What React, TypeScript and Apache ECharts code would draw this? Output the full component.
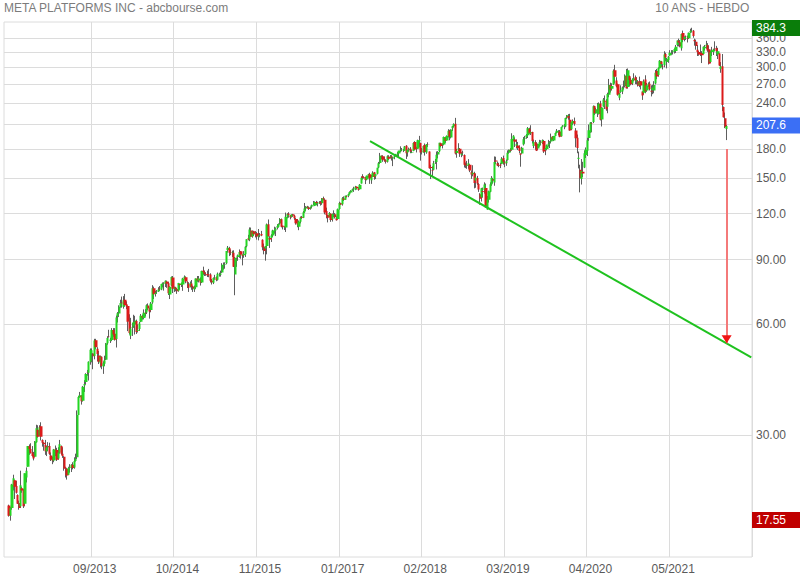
import React, { useEffect, useRef } from 'react';
import * as echarts from 'echarts';

// ---- data: weekly candles [open, close, low, high], week starting on Monday ----
const FIRST_WEEK = '2012-08-27';

const w2012 = [
  [19.3, 18.1, 18.0, 19.4], [18.1, 19.0, 17.55, 19.1], [19.0, 22.0, 18.8, 22.1], [21.8, 22.9, 21.2, 23.4],
  [22.6, 21.7, 20.1, 22.7], [21.8, 20.9, 20.8, 22.5], [20.6, 19.5, 19.5, 20.7], [19.6, 19.0, 18.8, 19.9],
  [19.2, 21.9, 19.0, 24.0], [21.5, 21.2, 20.9, 21.7], [21.3, 19.2, 19.0, 21.4], [19.5, 23.6, 19.2, 23.6],
  [23.0, 24.0, 22.3, 24.5], [24.6, 28.0, 24.6, 28.0], [28.0, 27.5, 26.5, 28.3], [27.5, 26.8, 26.7, 28.5],
  [26.9, 26.3, 26.2, 28.0], [26.5, 25.9, 25.6, 27.0], [26.2, 28.8, 26.1, 28.9],
];
const w2013 = [
  [28.7, 31.3, 28.6, 32.0], [31.0, 29.7, 29.5, 31.9], [29.9, 31.5, 29.9, 31.9], [31.7, 29.7, 29.0, 32.5],
  [29.1, 28.6, 27.9, 29.2], [28.6, 28.3, 27.2, 28.7], [28.2, 27.1, 26.5, 29.1], [27.1, 27.8, 26.3, 28.0],
  [27.8, 28.0, 27.1, 28.7], [28.0, 26.7, 26.5, 28.6], [26.4, 25.7, 25.5, 26.9], [25.8, 25.6, 25.0, 26.2],
  [25.6, 27.4, 25.3, 27.5], [27.4, 27.3, 26.3, 28.1], [27.3, 25.7, 25.5, 27.7], [25.9, 26.9, 25.7, 27.8],
  [26.9, 28.3, 26.7, 29.1], [28.0, 26.7, 26.5, 28.1], [26.7, 26.3, 26.0, 27.8], [26.2, 24.3, 24.0, 26.3],
  [24.5, 24.4, 23.0, 24.6], [24.3, 23.3, 22.7, 24.4], [23.4, 24.4, 23.4, 24.6], [24.4, 24.5, 23.7, 25.0],
  [24.5, 24.9, 23.8, 25.0], [24.9, 24.4, 24.2, 25.3], [24.5, 25.5, 24.3, 26.1], [25.5, 25.9, 25.4, 26.7],
  [26.1, 34.0, 25.8, 35.0], [34.0, 38.1, 34.0, 38.3], [38.0, 38.5, 37.9, 39.3], [38.4, 37.1, 36.3, 38.5],
  [37.2, 40.6, 37.0, 40.8], [40.9, 41.3, 39.3, 42.3], [41.8, 44.0, 41.1, 44.2], [44.4, 44.3, 43.5, 45.1],
  [44.3, 47.5, 42.2, 47.6], [47.5, 51.2, 46.6, 51.6], [50.1, 51.0, 47.3, 51.6], [50.0, 49.1, 45.3, 50.1],
  [49.2, 54.2, 48.2, 54.8], [54.3, 52.0, 51.3, 54.8], [51.5, 49.8, 47.6, 52.0], [49.4, 47.5, 46.8, 50.8],
  [47.0, 49.0, 45.8, 49.3], [49.0, 46.2, 45.3, 49.1], [46.1, 47.0, 44.0, 47.6], [46.9, 47.9, 46.2, 49.3],
  [48.1, 53.3, 48.0, 53.4], [53.3, 55.1, 52.8, 55.7], [55.5, 55.4, 55.2, 58.0], [54.1, 54.6, 53.4, 55.2],
];
const w2014 = [
  [54.4, 57.9, 54.0, 58.6], [57.9, 56.3, 55.5, 58.6], [56.6, 54.5, 54.2, 58.6], [54.7, 62.6, 51.9, 63.4],
  [63.0, 64.3, 60.7, 64.8], [64.2, 67.1, 62.8, 67.6], [67.1, 68.6, 66.6, 70.0], [68.7, 68.5, 66.6, 71.4],
  [67.0, 69.8, 66.2, 71.6], [70.0, 67.7, 67.0, 72.6], [68.2, 67.2, 66.0, 69.3], [67.3, 61.0, 57.5, 67.6],
  [61.0, 56.8, 56.3, 63.9], [55.9, 58.5, 54.7, 62.5], [58.6, 58.9, 55.8, 60.5], [59.2, 60.9, 58.7, 63.7],
  [59.9, 61.5, 56.3, 63.3], [61.3, 57.2, 56.5, 61.8], [57.6, 58.0, 57.0, 60.0], [58.3, 60.3, 57.6, 60.9],
  [61.0, 63.3, 60.8, 64.0], [63.2, 62.5, 61.8, 63.8], [62.4, 64.5, 61.9, 65.9], [64.5, 64.3, 63.0, 66.0],
  [64.6, 67.6, 64.0, 68.0], [67.5, 66.3, 65.5, 68.4], [66.3, 65.0, 62.2, 66.6], [65.6, 68.4, 64.7, 69.0],
  [68.8, 75.2, 68.2, 76.7], [75.2, 72.4, 70.3, 76.0], [72.5, 73.1, 71.4, 74.0], [73.5, 73.6, 72.6, 74.4],
  [73.7, 74.6, 73.5, 75.7], [75.0, 74.8, 73.9, 76.3], [74.6, 77.3, 74.3, 77.3], [77.0, 77.5, 75.6, 78.0],
  [77.5, 77.9, 74.1, 78.1], [77.6, 78.8, 75.8, 79.0], [78.5, 77.4, 75.4, 78.9], [77.6, 72.9, 72.1, 78.3],
  [72.3, 75.9, 70.3, 76.2], [76.5, 80.7, 76.1, 81.0], [80.5, 75.0, 73.0, 81.2], [74.8, 75.6, 73.5, 76.0],
  [75.6, 74.9, 73.8, 75.9], [74.9, 73.8, 72.6, 75.4], [74.0, 77.7, 73.6, 77.8], [77.3, 76.8, 74.5, 77.5],
  [76.8, 77.7, 75.8, 78.0], [77.0, 79.9, 74.0, 80.3], [80.0, 80.8, 79.5, 81.5], [80.6, 78.5, 77.6, 81.0],
];
const w2015 = [
  [78.0, 77.7, 75.3, 78.6], [77.2, 75.5, 73.5, 78.1], [76.0, 77.7, 75.6, 78.5], [77.5, 75.9, 74.5, 79.2],
  [76.0, 75.0, 73.5, 76.5], [74.6, 75.7, 73.5, 76.5], [75.7, 79.9, 74.9, 80.0], [80.0, 79.0, 78.3, 81.2],
  [78.9, 80.0, 78.0, 81.2], [79.5, 78.0, 76.5, 80.5], [78.0, 83.8, 77.7, 84.0], [84.0, 83.3, 81.8, 86.1],
  [83.2, 82.3, 81.2, 84.0], [82.3, 82.0, 81.3, 83.1], [82.3, 81.5, 80.7, 84.0], [82.0, 81.9, 80.6, 84.9],
  [82.0, 78.8, 78.0, 82.6], [78.8, 78.1, 77.0, 79.7], [77.9, 80.2, 77.2, 80.5], [80.4, 80.6, 79.3, 81.8],
  [80.4, 79.2, 78.6, 81.0], [79.3, 82.4, 78.9, 83.0], [82.0, 82.1, 80.9, 82.9], [81.9, 82.5, 80.9, 84.0],
  [83.0, 87.2, 82.8, 88.0], [86.8, 87.0, 84.5, 88.4], [87.0, 87.3, 85.0, 88.5], [88.0, 95.0, 87.5, 95.0],
  [95.5, 96.9, 94.0, 98.0], [96.7, 94.0, 92.0, 97.5], [94.4, 94.2, 92.5, 95.9], [94.0, 94.2, 91.5, 95.2],
  [94.0, 86.1, 85.9, 95.4], [82.0, 91.0, 72.0, 91.5], [89.5, 89.7, 86.0, 91.2], [91.5, 92.3, 89.3, 92.9],
  [92.0, 94.4, 91.0, 95.9], [94.8, 92.8, 90.5, 95.0], [92.5, 92.1, 86.8, 93.0], [92.5, 93.2, 91.0, 94.9],
  [93.0, 97.5, 91.5, 97.9], [97.9, 102.2, 97.2, 102.2], [102.8, 102.0, 101.5, 105.1], [102.0, 108.6, 101.0, 110.1],
  [108.0, 103.9, 103.8, 110.0], [104.0, 107.3, 103.2, 108.0], [107.5, 105.5, 104.3, 107.8], [105.5, 106.2, 103.4, 107.5],
  [106.2, 104.0, 102.0, 107.0], [104.0, 104.6, 101.5, 109.0], [104.8, 105.0, 103.5, 106.3], [105.7, 104.7, 104.2, 107.7],
];
const w2016 = [
  [101.9, 97.3, 95.4, 102.2], [97.6, 95.0, 93.0, 99.5], [96.5, 97.9, 89.4, 98.0], [98.0, 112.2, 93.0, 112.8],
  [112.3, 104.1, 104.0, 115.7], [103.0, 102.0, 96.8, 104.2], [103.0, 104.6, 100.5, 105.5], [104.6, 107.9, 103.7, 108.5],
  [107.8, 108.4, 105.8, 110.6], [108.0, 109.4, 104.3, 110.1], [109.9, 111.0, 108.7, 112.4], [110.6, 112.5, 110.0, 112.9],
  [112.8, 116.1, 112.0, 116.7], [115.9, 110.6, 110.1, 116.4], [111.2, 110.5, 108.7, 111.3], [110.2, 110.1, 108.3, 111.0],
  [110.0, 117.6, 107.0, 120.8], [117.8, 119.8, 116.5, 120.3], [120.0, 119.0, 117.0, 121.1], [118.8, 117.4, 115.8, 119.0],
  [117.6, 119.4, 117.1, 119.5], [119.5, 118.5, 117.6, 119.8], [118.5, 116.6, 115.4, 119.0], [116.0, 113.0, 112.0, 116.8],
  [114.0, 112.1, 110.2, 116.0], [110.5, 114.2, 108.2, 115.0], [114.0, 117.2, 112.9, 117.9], [117.5, 116.9, 116.0, 118.3],
  [117.0, 121.0, 116.7, 122.0], [121.0, 123.9, 120.5, 128.3], [124.0, 125.2, 122.1, 125.8], [125.3, 125.0, 124.0, 126.0],
  [124.8, 123.6, 122.8, 125.5], [124.0, 125.0, 123.0, 125.5], [125.4, 126.5, 124.0, 127.0], [126.8, 127.1, 126.5, 129.9],
  [126.0, 129.1, 125.8, 129.6], [129.0, 128.0, 126.7, 130.0], [127.6, 128.3, 125.6, 129.3], [128.4, 129.0, 127.6, 129.8],
  [129.0, 127.9, 126.2, 130.0], [128.0, 132.1, 126.8, 132.3], [132.2, 131.3, 130.4, 133.5], [131.0, 120.8, 119.5, 131.9],
  [122.0, 119.0, 116.5, 124.6], [119.0, 117.0, 113.6, 119.2], [117.6, 120.4, 117.3, 121.2], [120.0, 115.4, 114.0, 120.2],
  [115.8, 119.7, 114.2, 120.1], [120.0, 119.9, 117.3, 122.5], [119.5, 117.3, 116.4, 120.5], [116.5, 115.1, 114.9, 118.0],
];
const w2017 = [
  [116.0, 123.4, 115.5, 123.9], [123.5, 128.3, 123.0, 129.3], [128.0, 127.0, 126.6, 128.5], [127.3, 132.2, 126.2, 133.1],
  [132.0, 131.0, 129.9, 133.7], [131.0, 134.2, 130.9, 134.3], [134.0, 133.5, 132.8, 134.6], [134.0, 135.4, 133.0, 136.0],
  [135.5, 137.4, 135.2, 138.0], [137.0, 138.7, 136.8, 139.0], [138.8, 139.8, 138.5, 140.4], [140.0, 140.3, 137.5, 142.0],
  [139.4, 142.1, 139.0, 142.8], [142.0, 140.8, 139.6, 142.3], [141.0, 139.4, 138.5, 141.5], [139.8, 143.7, 139.6, 144.4],
  [145.0, 150.3, 144.8, 151.5], [151.7, 150.2, 148.5, 153.6], [150.7, 150.3, 149.5, 151.6], [150.6, 148.1, 144.4, 151.0],
  [148.5, 152.1, 147.8, 152.3], [152.0, 153.6, 150.5, 154.0], [153.5, 149.6, 144.6, 155.0], [148.0, 150.6, 144.6, 152.9],
  [151.0, 155.1, 150.8, 156.5], [155.5, 151.0, 148.4, 155.8], [151.7, 153.7, 149.0, 154.0], [154.0, 160.0, 153.4, 160.0],
  [160.3, 164.4, 159.5, 165.9], [164.9, 172.5, 163.8, 175.5], [172.5, 172.0, 168.8, 172.8], [171.9, 168.1, 166.0, 173.0],
  [168.5, 167.4, 166.1, 171.5], [167.3, 166.3, 164.2, 168.6], [166.0, 172.0, 165.2, 172.9], [171.3, 169.2, 167.9, 173.0],
  [170.8, 171.6, 169.6, 173.2], [171.7, 170.5, 167.3, 173.1], [169.5, 170.9, 161.6, 171.4], [171.4, 172.2, 168.7, 172.9],
  [172.2, 173.7, 171.6, 174.5], [173.5, 174.6, 171.6, 176.5], [175.0, 177.9, 170.2, 178.0], [177.5, 178.9, 176.3, 182.9],
  [178.6, 178.5, 177.3, 181.0], [178.5, 179.0, 176.4, 180.0], [178.0, 182.8, 177.9, 183.3], [183.5, 175.1, 169.0, 184.3],
  [176.0, 179.0, 171.5, 179.0], [179.0, 180.2, 176.8, 181.5], [180.2, 177.2, 175.2, 182.0], [176.0, 176.5, 175.3, 178.5],
];
const w2018 = [
  [177.7, 186.9, 177.4, 187.6], [187.9, 179.4, 178.6, 188.9], [181.5, 179.8, 176.0, 182.4], [180.2, 190.0, 180.0, 190.7],
  [188.8, 190.3, 181.8, 195.3], [186.9, 176.1, 167.2, 187.2], [177.5, 177.4, 173.8, 180.9], [176.0, 183.3, 175.8, 183.8],
  [184.5, 176.6, 172.6, 186.2], [175.9, 185.2, 174.6, 185.6], [185.2, 185.1, 182.2, 187.6], [177.0, 159.4, 159.0, 177.2],
  [160.8, 159.8, 149.0, 163.0], [157.8, 157.2, 150.9, 161.4], [157.9, 164.5, 157.5, 167.0], [165.5, 166.3, 163.8, 169.0],
  [165.8, 173.6, 158.3, 177.1], [173.8, 176.6, 169.6, 177.5], [177.4, 187.0, 176.5, 187.0], [186.5, 183.2, 181.8, 187.1],
  [184.5, 184.9, 180.5, 186.3], [184.9, 194.0, 184.0, 194.5], [193.1, 189.1, 186.9, 194.0], [189.7, 195.1, 189.5, 195.9],
  [194.5, 201.7, 193.3, 203.6], [201.5, 194.3, 190.0, 202.8], [193.4, 203.2, 192.2, 203.5], [204.9, 207.3, 201.3, 207.7],
  [207.5, 209.9, 205.8, 211.3], [210.6, 174.9, 173.8, 218.6], [175.3, 177.8, 170.3, 180.0], [178.9, 180.3, 177.7, 186.5],
  [180.1, 174.7, 171.2, 181.0], [173.5, 174.7, 170.9, 176.3], [176.0, 175.7, 172.5, 178.0], [173.2, 163.0, 160.2, 173.9],
  [163.5, 162.3, 159.6, 165.3], [161.9, 162.9, 158.9, 167.0], [163.0, 164.5, 158.9, 168.8], [163.0, 157.3, 155.6, 163.7],
  [155.5, 153.4, 149.2, 157.3], [153.6, 154.9, 151.6, 162.5], [154.8, 145.4, 140.6, 156.0], [147.6, 150.4, 141.1, 154.1],
  [150.1, 145.0, 143.7, 152.0], [144.5, 139.5, 137.5, 145.3], [135.5, 131.7, 126.9, 136.4], [133.0, 140.6, 129.5, 141.0],
  [138.0, 137.4, 132.6, 141.3], [139.2, 144.1, 136.0, 146.0], [141.0, 125.0, 124.6, 144.9], [123.1, 131.1, 123.0, 134.0],
  [131.0, 138.0, 128.6, 138.6],
];
const w2019 = [
  [137.6, 144.2, 137.2, 146.0], [144.0, 150.0, 142.8, 151.8], [149.0, 147.5, 144.8, 150.2], [145.9, 165.7, 142.9, 171.7],
  [167.4, 166.4, 163.5, 171.4], [164.4, 162.3, 161.6, 166.3], [162.5, 161.9, 160.5, 165.0], [163.0, 162.3, 159.6, 165.0],
  [163.9, 169.1, 163.5, 171.0], [170.0, 166.0, 163.1, 172.6], [165.4, 164.3, 160.5, 167.6], [164.5, 166.7, 161.9, 168.4],
  [167.8, 175.7, 167.2, 178.3], [175.6, 179.1, 174.6, 179.2], [179.0, 178.3, 176.4, 180.8], [179.0, 191.5, 178.0, 198.5],
  [191.0, 195.5, 189.3, 196.2], [191.0, 188.3, 182.1, 193.5], [183.5, 185.3, 180.5, 190.9], [184.0, 180.9, 178.7, 188.0],
  [181.5, 177.5, 175.1, 184.0], [175.0, 173.4, 161.0, 175.0], [174.8, 181.3, 174.5, 182.4], [185.0, 191.1, 183.8, 193.8],
  [192.0, 193.0, 185.9, 195.3], [194.0, 196.4, 191.8, 197.5], [196.2, 204.9, 192.7, 206.4], [204.1, 198.4, 197.9, 205.5],
  [198.5, 199.8, 196.3, 208.7], [200.0, 189.0, 186.2, 200.4], [183.4, 187.9, 180.8, 190.8], [187.6, 183.7, 179.0, 190.1],
  [186.0, 177.8, 177.6, 187.7], [180.5, 185.7, 178.5, 186.0], [184.0, 187.5, 182.5, 190.5], [187.3, 187.2, 184.0, 190.0],
  [186.9, 189.9, 185.5, 191.0], [189.0, 177.1, 175.5, 190.4], [178.8, 180.5, 173.1, 181.0], [180.0, 184.2, 178.3, 185.0],
  [184.5, 185.9, 182.6, 190.4], [187.0, 187.9, 181.0, 189.0], [188.6, 193.6, 186.2, 198.1], [194.5, 190.8, 189.6, 194.9],
  [189.6, 195.1, 189.0, 195.3], [195.0, 198.8, 195.0, 199.6], [199.0, 201.6, 198.3, 203.8], [201.0, 201.1, 196.0, 202.4],
  [200.6, 194.1, 193.6, 202.6], [194.8, 206.3, 194.4, 206.8], [206.8, 208.1, 206.0, 208.9], [207.9, 208.7, 203.6, 210.4],
];
const w2020 = [
  [207.0, 218.3, 206.1, 218.9], [219.0, 222.1, 217.0, 222.6], [221.0, 217.9, 216.0, 223.8], [216.0, 201.9, 201.6, 224.2],
  [203.4, 212.3, 202.6, 212.4], [211.5, 214.2, 208.9, 216.5], [214.2, 210.2, 208.1, 219.0], [202.0, 192.5, 181.8, 205.0],
  [193.0, 181.1, 175.2, 196.9], [169.0, 170.3, 159.3, 177.0], [158.0, 149.7, 137.1, 163.0], [149.0, 156.8, 144.0, 168.9],
  [155.9, 154.2, 150.8, 166.0], [160.2, 175.2, 159.6, 178.3], [173.2, 179.2, 170.0, 181.6], [178.0, 190.1, 172.1, 193.0],
  [192.7, 202.3, 189.2, 209.7], [200.0, 212.4, 199.1, 213.0], [211.8, 210.9, 199.6, 212.9], [213.0, 234.9, 211.5, 236.3],
  [235.6, 225.1, 222.5, 235.8], [224.6, 230.8, 224.5, 233.0], [229.0, 228.6, 219.8, 240.0], [224.0, 238.8, 223.2, 240.8],
  [239.0, 216.1, 215.1, 243.2], [216.5, 233.4, 207.1, 233.8], [234.8, 245.1, 234.3, 247.5], [243.5, 242.0, 231.1, 251.5],
  [243.0, 230.7, 228.5, 245.8], [234.5, 253.7, 225.0, 255.9], [252.5, 268.4, 248.7, 278.9], [268.0, 261.2, 256.2, 272.5],
  [262.5, 267.0, 259.3, 271.5], [269.5, 293.7, 268.4, 296.2], [294.5, 282.7, 271.0, 304.7], [276.0, 266.6, 264.5, 282.0],
  [270.0, 252.5, 251.2, 270.9], [248.0, 254.8, 244.1, 256.0], [257.0, 259.9, 255.6, 268.0], [258.0, 264.5, 253.6, 266.0],
  [266.0, 265.9, 261.0, 276.0], [267.0, 284.8, 264.5, 287.0], [284.0, 263.1, 262.6, 297.0], [265.0, 294.7, 262.5, 297.8],
  [284.0, 277.0, 266.3, 285.0], [277.0, 269.7, 268.0, 281.4], [271.0, 277.8, 268.4, 280.0], [277.0, 279.7, 274.7, 289.0],
  [282.0, 275.6, 270.0, 285.0], [274.7, 276.4, 269.6, 282.0], [275.0, 267.4, 266.0, 277.0], [268.7, 273.2, 264.9, 283.0],
];
const w2021 = [
  [274.8, 267.6, 261.2, 275.0], [258.0, 251.4, 244.6, 258.0], [256.0, 274.5, 252.6, 278.0], [278.0, 258.3, 255.0, 285.4],
  [259.5, 268.1, 257.3, 272.0], [268.0, 270.5, 265.5, 273.0], [270.5, 261.6, 259.5, 274.5], [259.0, 257.6, 250.0, 268.0],
  [260.0, 264.3, 253.5, 269.0], [259.5, 268.4, 254.9, 275.0], [271.0, 290.1, 269.5, 295.0], [293.0, 283.0, 278.5, 297.0],
  [286.0, 298.7, 283.0, 300.0], [298.0, 312.5, 298.0, 314.0], [311.0, 306.2, 301.0, 312.0], [302.0, 301.1, 296.0, 306.0],
  [304.0, 325.1, 300.0, 331.8], [326.0, 319.1, 311.5, 328.8], [310.0, 315.9, 298.0, 318.0], [314.0, 320.6, 308.5, 322.0],
  [323.0, 328.7, 322.5, 334.0], [330.0, 330.4, 324.5, 334.0], [330.0, 331.3, 325.0, 334.0], [331.0, 336.5, 327.0, 338.0],
  [332.0, 341.4, 328.0, 345.0], [345.0, 354.7, 342.0, 355.0], [354.0, 350.4, 342.0, 359.0], [351.0, 341.7, 340.0, 356.0],
  [338.0, 369.8, 333.0, 370.0], [372.0, 356.3, 351.0, 377.5], [358.0, 363.5, 353.0, 364.0], [363.0, 362.7, 356.0, 366.0],
  [361.0, 359.4, 350.5, 366.0], [360.0, 372.6, 358.0, 373.0], [373.5, 376.3, 372.0, 382.0], [377.0, 378.0, 373.0, 384.3],
  [377.0, 364.7, 361.0, 379.0], [356.0, 353.0, 343.5, 359.0], [352.0, 343.0, 335.0, 357.0], [335.0, 330.1, 322.0, 345.0],
  [330.0, 324.8, 322.5, 332.5], [328.0, 324.6, 322.0, 346.0], [328.0, 323.6, 308.1, 332.0], [326.0, 341.1, 325.0, 342.0],
  [338.0, 340.9, 333.0, 345.0], [342.0, 345.3, 337.0, 354.0], [345.0, 333.1, 330.5, 349.0], [336.0, 306.8, 305.3, 344.0],
  [310.0, 329.8, 308.0, 333.0], [330.0, 333.8, 322.0, 341.0], [330.0, 335.2, 324.0, 337.0], [337.0, 336.4, 332.0, 353.0],
];
const w2022 = [
  [338.0, 331.8, 322.0, 343.1], [325.0, 331.9, 316.0, 339.0], [327.0, 303.2, 302.5, 327.5], [297.0, 301.7, 289.9, 310.0],
  [302.0, 237.1, 228.0, 326.0], [234.0, 219.6, 219.0, 234.7], [218.0, 206.2, 205.0, 226.0], [204.0, 207.6, 190.2, 209.0],
];

// axis ticks and labels
const yTicks = [30, 60, 90, 120, 150, 180, 210, 240, 270, 300, 330, 360];
const yRange = [13.98, 398.4];
const xTickDates = ['2013-09-23', '2014-10-27', '2015-11-30', '2017-01-02', '2018-02-05', '2019-03-11', '2020-04-13', '2021-05-17'];
const LEAD_WEEKS = 3;
const TAIL_WEEKS = 17;

// support line (date of week, price) and projected target arrow
const trendStart = { date: '2017-06-05', price: 189 };
const trendEnd = { date: '2022-06-20', price: 48.8 };
const arrowFromPrice = 180;

const TITLE = 'META PLATFORMS INC - abcbourse.com';
const PERIOD = '10 ANS - HEBDO';

const FONT = "'Liberation Sans', Arial, Helvetica, sans-serif";
const UP = '#22d622';
const DOWN = '#dc1a1a';
const WICK = '#5e5e5e';

export default function App() {
  const ref = useRef<HTMLDivElement>(null);

  useEffect(() => {
    if (!ref.current) return;
    const chart = echarts.init(ref.current, undefined, { renderer: 'svg' });

    const candles = [...w2012, ...w2013, ...w2014, ...w2015, ...w2016, ...w2017, ...w2018, ...w2019, ...w2020, ...w2021, ...w2022];
    const N = candles.length;
    const slots = LEAD_WEEKS + N + TAIL_WEEKS;
    const DAY = 86400000;
    const t0 = Date.parse(FIRST_WEEK + 'T00:00:00Z');
    const cats = Array.from({ length: slots }, (_, s) =>
      new Date(t0 + (s - LEAD_WEEKS) * 7 * DAY).toISOString().slice(0, 10)
    );
    const ln = Math.log;
    const fmt = (p: number) => (p >= 100 ? p.toFixed(1) : p.toFixed(2));

    const data = candles.map(([o, c, l, h], d) => [
      d + LEAD_WEEKS,
      ln(o),
      ln(c),
      ln(Math.min(l, o, c)),
      ln(Math.max(h, o, c)),
    ]);

    const maxHigh = Math.max(...candles.map((k) => k[3]));
    const minLow = Math.min(...candles.map((k) => k[2]));
    const lastClose = candles[N - 1][1];

    const labelSlots = new Set(xTickDates.map((d) => cats.indexOf(d)));

    const sIdx = cats.indexOf(trendStart.date);
    const eIdx = cats.indexOf(trendEnd.date);
    const lastSlot = LEAD_WEEKS + N - 1;
    const tFrac = (lastSlot - sIdx) / (eIdx - sIdx);
    const lnTrendAtLast = ln(trendStart.price) + tFrac * (ln(trendEnd.price) - ln(trendStart.price));

    const priceLabel = (value: number, bg: string) => ({
      yAxis: ln(value),
      lineStyle: { color: 'rgba(0,0,0,0)', width: 0 },
      label: {
        show: true,
        position: 'end',
        distance: 0,
        formatter: fmt(value),
        color: '#ffffff',
        backgroundColor: bg,
        fontSize: 12,
        fontFamily: FONT,
        padding: [2, 4, 1, 4],
        width: 40,
        lineHeight: 13,
        align: 'left',
        opacity: 1,
      },
    });

    const option: any = {
      animation: false,
      backgroundColor: '#ffffff',
      textStyle: { fontFamily: FONT },
      title: [
        {
          text: TITLE,
          left: 4,
          top: 2,
          padding: 0,
          textStyle: { fontSize: 12, fontWeight: 'normal', color: '#7c7c7c', fontFamily: FONT },
        },
        {
          text: PERIOD,
          right: 50,
          top: 2,
          padding: 0,
          textStyle: { fontSize: 12, fontWeight: 'normal', color: '#7c7c7c', fontFamily: FONT },
        },
      ],
      grid: {
        left: 4,
        right: 48,
        top: 22,
        bottom: 23,
        show: true,
        borderColor: '#dcdcdc',
        borderWidth: 1,
        outerBoundsMode: 'none',
      },
      xAxis: {
        type: 'category',
        data: cats,
        boundaryGap: true,
        axisLine: { show: false },
        axisTick: { show: false },
        axisLabel: {
          interval: (i: number) => labelSlots.has(i),
          formatter: (v: string) => v.slice(5, 7) + '/' + v.slice(0, 4),
          color: '#5a5a5a',
          fontSize: 12,
          fontFamily: FONT,
          margin: 6,
          padding: [0, 0, 0, 9],
        },
        splitLine: {
          show: true,
          interval: (i: number) => labelSlots.has(i - 1),
          lineStyle: { color: '#dcdcdc', width: 1 },
        },
      },
      yAxis: {
        type: 'value',
        position: 'right',
        min: ln(yRange[0]),
        max: ln(yRange[1]),
        axisLine: { show: false },
        axisTick: { show: false, customValues: yTicks.map(ln) },
        axisLabel: {
          customValues: yTicks.map(ln),
          formatter: (v: number) => fmt(Math.exp(v)),
          color: '#5a5a5a',
          fontSize: 12,
          fontFamily: FONT,
          margin: 4,
          padding: [0, 0, 3, 0],
        },
        splitLine: { show: true, lineStyle: { color: '#dcdcdc', width: 1 } },
      },
      series: [
        {
          name: 'wicks',
          type: 'candlestick',
          data,
          encode: { x: 0, y: [1, 2, 3, 4] },
          barWidth: 1,
          silent: true,
          z: 2,
          itemStyle: { color: WICK, color0: WICK, borderColor: WICK, borderColor0: WICK, borderWidth: 1 },
        },
        {
          name: 'META',
          type: 'candlestick',
          data,
          encode: { x: 0, y: [1, 2, 3, 4] },
          barWidth: 2.8,
          silent: true,
          z: 3,
          itemStyle: { color: UP, color0: DOWN, borderColor: UP, borderColor0: DOWN, borderWidth: 0 },
          markLine: {
            silent: true,
            symbol: ['none', 'none'],
            animation: false,
            z: 5,
            data: [
              [
                {
                  coord: [trendStart.date, ln(trendStart.price)],
                  lineStyle: { color: '#1fc21f', width: 2, type: 'solid' },
                  label: { show: false },
                },
                { coord: [trendEnd.date, ln(trendEnd.price)] },
              ],
              [
                {
                  coord: [cats[lastSlot], ln(arrowFromPrice)],
                  lineStyle: { color: '#f47a7a', width: 2, type: 'solid' },
                  label: { show: false },
                },
                { coord: [cats[lastSlot], lnTrendAtLast] },
              ],
              priceLabel(maxHigh, '#0a7d0a'),
              priceLabel(lastClose, '#3b6ff5'),
              priceLabel(minLow, '#c00000'),
            ],
          },
          markPoint: {
            silent: true,
            animation: false,
            data: [
              {
                coord: [cats[lastSlot], lnTrendAtLast],
                symbol: 'triangle',
                symbolSize: [10, 8],
                symbolRotate: 180,
                symbolOffset: [0, '-50%'],
                itemStyle: { color: '#f01414' },
                label: { show: false },
              },
            ],
          },
        },
      ],
    };

    chart.setOption(option);
    return () => chart.dispose();
  }, []);

  return (
    <div
      ref={ref}
      style={{ position: 'absolute', left: 0, top: 0, width: 800, height: 580, background: '#fff' }}
    />
  );
}
